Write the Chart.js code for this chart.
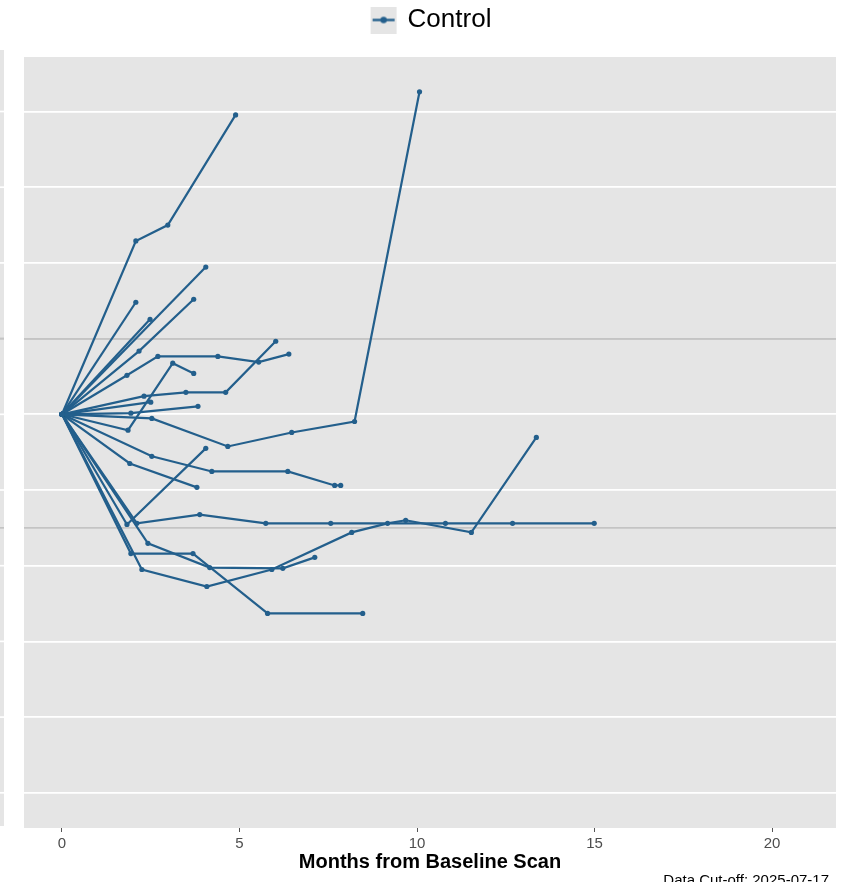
<!DOCTYPE html>
<html>
<head>
<meta charset="utf-8">
<script src="https://cdn.jsdelivr.net/npm/chart.js@4.4.1/dist/chart.umd.min.js"></script>
<style>
  html, body { margin: 0; padding: 0; background: #fff; }
  #spider { display: block; }
</style>
</head>
<body>
<canvas id="spider" width="854" height="882"></canvas>
<script>
// months from baseline scan / % change from baseline, one pair per patient
const pt01Months = [0, 2.08, 2.98, 4.89];
const pt01Change = [0, 45.8, 50.0, 79.1];
const pt02Months = [0, 2.53, 4.67, 6.47, 8.24, 10.07];
const pt02Change = [0, -1.1, -8.5, -4.8, -1.9, 85.2];
const pt03Months = [0, 2.08];
const pt03Change = [0, 29.6];
const pt04Months = [0, 2.48];
const pt04Change = [0, 25.1];
const pt05Months = [0, 4.05];
const pt05Change = [0, 38.9];
const pt06Months = [0, 2.17, 3.71];
const pt06Change = [0, 16.7, 30.4];
const pt07Months = [0, 1.83, 2.70, 4.39, 5.54, 6.39];
const pt07Change = [0, 10.3, 15.3, 15.3, 13.8, 15.9];
const pt08Months = [0, 2.31, 3.49, 4.61, 6.02];
const pt08Change = [0, 4.8, 5.8, 5.8, 19.3];
const pt09Months = [0, 1.86, 3.12, 3.71];
const pt09Change = [0, -4.2, 13.5, 10.8];
const pt10Months = [0, 2.50];
const pt10Change = [0, 3.2];
const pt11Months = [0, 1.94, 3.83];
const pt11Change = [0, 0.3, 2.1];
const pt12Months = [0, 2.53, 4.22, 6.36, 7.68, 7.85];
const pt12Change = [0, -11.1, -15.1, -15.1, -18.8, -18.8];
const pt13Months = [0, 1.91, 3.80];
const pt13Change = [0, -13.0, -19.3];
const pt14Months = [0, 1.83, 4.05];
const pt14Change = [0, -29.1, -9.0];
const pt15Months = [0, 2.11, 3.88, 5.74, 7.57, 10.80, 12.69, 14.99];
const pt15Change = [0, -28.8, -26.5, -28.8, -28.8, -28.8, -28.8, -28.8];
const pt16Months = [0, 2.25, 4.08, 5.91, 8.16, 9.17, 9.68, 11.53, 13.36];
const pt16Change = [0, -41.0, -45.5, -41.0, -31.2, -28.8, -28.0, -31.2, -6.1];
const pt17Months = [0, 2.42, 4.16, 6.22, 7.12];
const pt17Change = [0, -34.1, -40.5, -40.7, -37.8];
const pt18Months = [0, 1.94, 3.69, 5.79, 8.47];
const pt18Change = [0, -36.8, -36.8, -52.6, -52.6];

const patients = [
  [pt01Months, pt01Change], [pt02Months, pt02Change], [pt03Months, pt03Change],
  [pt04Months, pt04Change], [pt05Months, pt05Change], [pt06Months, pt06Change],
  [pt07Months, pt07Change], [pt08Months, pt08Change], [pt09Months, pt09Change],
  [pt10Months, pt10Change], [pt11Months, pt11Change], [pt12Months, pt12Change],
  [pt13Months, pt13Change], [pt14Months, pt14Change], [pt15Months, pt15Change],
  [pt16Months, pt16Change], [pt17Months, pt17Change], [pt18Months, pt18Change]
];

const armLabel = 'Control';
const xTicks = [0, 5, 10, 15, 20];
const yGrid = [-100, -80, -60, -40, -20, 0, 20, 40, 60, 80];
const refLines = [20, -30];   // progression / response thresholds
const cutoffText = 'Data Cut-off: 2025-07-17';

const lineColor = '#235f8c';
const panelColor = '#e5e5e5';

Chart.defaults.font.family = '"Liberation Sans", Arial, sans-serif';

// legend key: grey square with a line and a dot through it
const legendKey = document.createElement('canvas');
legendKey.width = 38;
legendKey.height = 27;
(function () {
  const k = legendKey.getContext('2d');
  k.fillStyle = panelColor;
  k.fillRect(8, 0, 26, 27);
  k.strokeStyle = lineColor;
  k.lineWidth = 2.4;
  k.beginPath();
  k.moveTo(10, 13.5);
  k.lineTo(32, 13.5);
  k.stroke();
  k.fillStyle = lineColor;
  k.beginPath();
  k.arc(21, 13.5, 3.2, 0, Math.PI * 2);
  k.fill();
})();

const datasets = patients.map(([months, change], i) => ({
  label: armLabel + ' ' + (i + 1),
  data: months.map((m, j) => ({ x: m, y: change[j] })),
  borderColor: lineColor,
  backgroundColor: lineColor,
  borderWidth: 2.2,
  pointRadius: 2.6,
  pointBorderWidth: 0,
  pointBackgroundColor: lineColor,
  tension: 0
}));

const panelBackground = {
  id: 'panelBackground',
  beforeDraw(chart) {
    const { ctx, chartArea: a, scales: { y } } = chart;
    ctx.save();
    ctx.fillStyle = panelColor;
    ctx.fillRect(a.left, a.top, a.right - a.left, a.bottom - a.top);
    // edge of the neighbouring panel on the far left
    ctx.fillRect(0, a.top - 7, 4, a.bottom - a.top + 5);
    ctx.lineWidth = 1.7;
    yGrid.concat(refLines).forEach(v => {
      const py = y.getPixelForValue(v);
      ctx.strokeStyle = refLines.includes(v) ? '#c4c4c4' : '#ffffff';
      ctx.beginPath();
      ctx.moveTo(0, py);
      ctx.lineTo(4, py);
      ctx.stroke();
    });
    ctx.restore();
  }
};

const caption = {
  id: 'caption',
  afterDraw(chart) {
    const ctx = chart.ctx;
    ctx.save();
    ctx.fillStyle = '#000';
    ctx.font = '15px "Liberation Sans", Arial, sans-serif';
    ctx.textAlign = 'right';
    ctx.textBaseline = 'alphabetic';
    ctx.fillText(cutoffText, 829, 885);
    ctx.restore();
  }
};

new Chart(document.getElementById('spider'), {
  type: 'line',
  data: { datasets },
  options: {
    responsive: false,
    animation: false,
    layout: { padding: { top: 0, left: 24, right: 18, bottom: 8 } },
    plugins: {
      legend: {
        position: 'top',
        labels: {
          usePointStyle: true,
          padding: 7,
          color: '#000',
          font: { size: 26 },
          generateLabels: () => [{
            text: armLabel, pointStyle: legendKey, hidden: false,
            lineWidth: 0, fontColor: '#000', datasetIndex: 0
          }]
        },
        onClick: () => {}
      },
      // spacer between legend and panel
      title: { display: true, text: '', weight: 500, font: { size: 14, lineHeight: 1 }, padding: 0 },
      tooltip: { enabled: false }
    },
    scales: {
      x: {
        type: 'linear',
        min: -1.07,
        max: 21.8,
        afterBuildTicks: s => { s.ticks = xTicks.map(v => ({ value: v })); },
        grid: { drawOnChartArea: false, drawTicks: true, tickLength: 4, color: '#555', lineWidth: 1 },
        border: { display: false },
        ticks: { color: '#4d4d4d', font: { size: 15 }, padding: 3 },
        title: {
          display: true,
          text: 'Months from Baseline Scan',
          color: '#000',
          font: { size: 20, weight: 'bold' },
          padding: { top: -6, bottom: 0 }
        }
      },
      y: {
        type: 'linear',
        min: -109.3,
        max: 94.4,
        afterBuildTicks: s => { s.ticks = yGrid.concat(refLines).sort((a, b) => a - b).map(v => ({ value: v })); },
        grid: {
          color: c => refLines.includes(c.tick.value) ? '#c4c4c4' : '#ffffff',
          lineWidth: 1.7,
          drawTicks: false
        },
        border: { display: false },
        ticks: { display: false }
      }
    }
  },
  plugins: [panelBackground, caption]
});
</script>
</body>
</html>
